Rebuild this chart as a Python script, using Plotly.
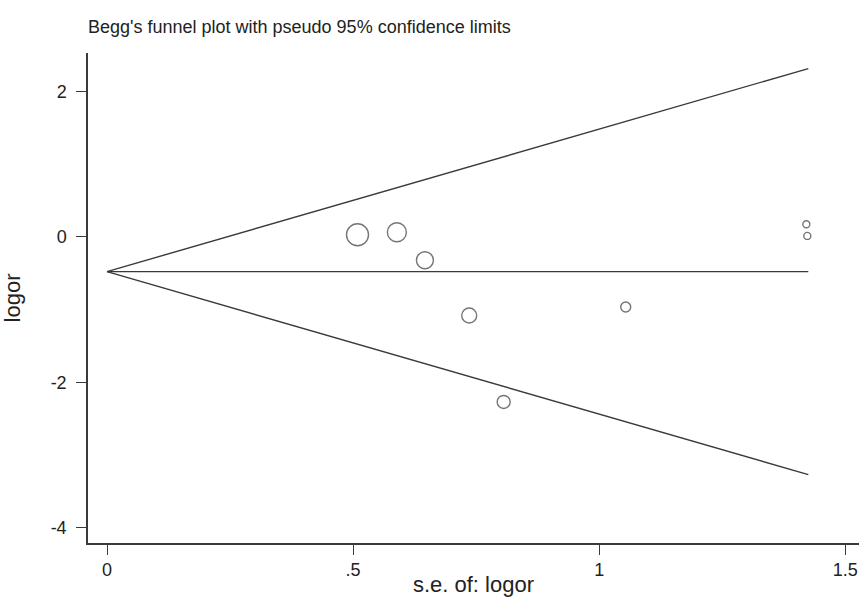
import plotly.graph_objects as go

# Study data
se = [0.509, 0.589, 0.646, 0.736, 0.806, 1.054, 1.421, 1.423]
logor = [0.03, 0.065, -0.32, -1.08, -2.27, -0.963, 0.175, 0.014]
marker_size = [22, 19, 17, 15, 13, 10, 7, 7]

pooled = -0.477
se_max = 1.425
z = 1.96

x_ticks = [0, 0.5, 1, 1.5]
x_ticktext = ["0", ".5", "1", "1.5"]
y_ticks = [-4, -2, 0, 2]
y_ticktext = ["-4", "-2", "0", "2"]

line_color = "#3a3a3a"

fig = go.Figure()
# funnel limits
fig.add_trace(go.Scatter(x=[0, se_max], y=[pooled, pooled + z * se_max], mode="lines",
                         line=dict(color=line_color, width=1.4), showlegend=False, hoverinfo="skip"))
fig.add_trace(go.Scatter(x=[0, se_max], y=[pooled, pooled - z * se_max], mode="lines",
                         line=dict(color=line_color, width=1.4), showlegend=False, hoverinfo="skip"))
fig.add_trace(go.Scatter(x=[0, se_max], y=[pooled, pooled], mode="lines",
                         line=dict(color=line_color, width=1.4), showlegend=False, hoverinfo="skip"))
# studies
fig.add_trace(go.Scatter(x=se, y=logor, mode="markers",
                         marker=dict(size=marker_size, symbol="circle-open", color=line_color,
                                     line=dict(width=1.4, color=line_color)),
                         showlegend=False))

font = dict(family="Liberation Sans, Arial, sans-serif", size=18, color="#222222")

fig.update_layout(
    width=859, height=597,
    margin=dict(l=88, r=0, t=53, b=54),
    paper_bgcolor="white", plot_bgcolor="white",
    font=font,
    title=dict(text="Begg's funnel plot with pseudo 95% confidence limits",
               x=88 / 859, xanchor="left", y=1 - 27 / 597, yanchor="middle",
               font=dict(family="Liberation Sans, Arial, sans-serif", size=18, color="#222222")),
    xaxis=dict(range=[-0.0386, 1.528], tickvals=x_ticks, ticktext=x_ticktext,
               showgrid=False, zeroline=False, showline=True, linecolor=line_color, linewidth=1.5,
               ticks="outside", ticklen=10, tickwidth=1.3, tickcolor=line_color,
               title=dict(text="s.e. of: logor", standoff=2)),
    yaxis=dict(range=[-4.21, 2.53], tickvals=y_ticks, ticktext=y_ticktext,
               showgrid=False, zeroline=False, showline=True, linecolor=line_color, linewidth=1.5,
               ticks="outside", ticklen=10, tickwidth=1.3, tickcolor=line_color,
               ticklabelstandoff=6,
               title=dict(text="logor", standoff=26)),
)

fig.write_html("out.html")
